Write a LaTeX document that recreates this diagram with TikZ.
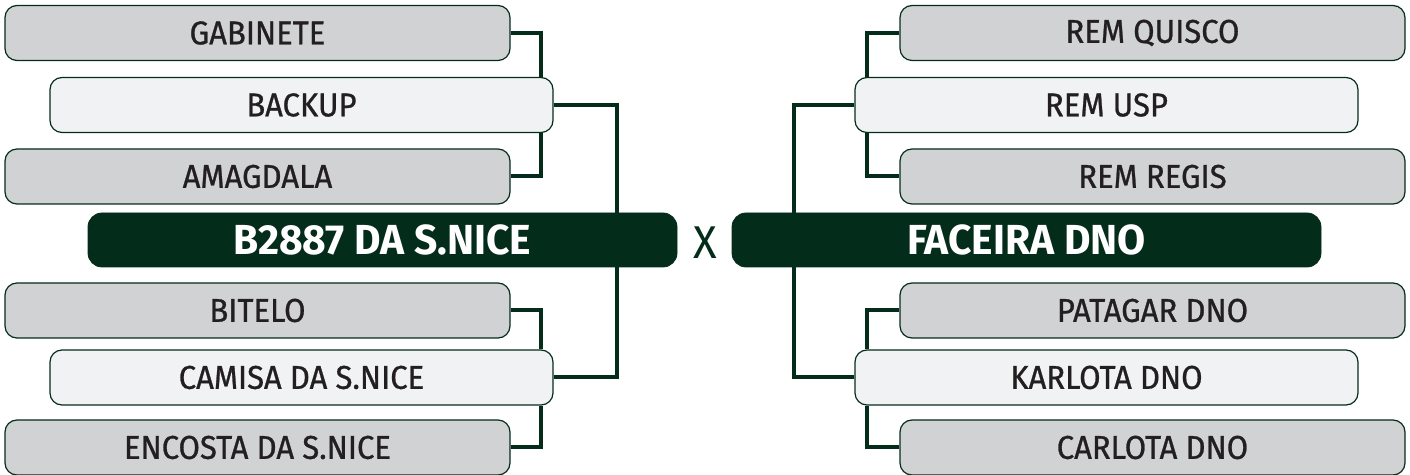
\documentclass[tikz,border=0pt]{standalone}
\usepackage{fontspec}
\setmainfont{Fira Sans}[FakeStretch=0.95]
\newfontfamily\playerfont{Fira Sans}[FakeStretch=0.94,FakeBold=0.8]
\newfontfamily\teamfont{Fira Sans Bold}[FakeStretch=0.97]
\usetikzlibrary{positioning}
\definecolor{darkteam}{RGB}{4,44,27}
\definecolor{grayfill}{RGB}{209,210,212}
\definecolor{lightfill}{RGB}{241,242,243}
\definecolor{inktext}{RGB}{35,31,32}

\begin{document}
\begin{tikzpicture}[x=0.5pt,y=-0.5pt,
  player/.style={draw=darkteam,line width=0.6pt,rounded corners=6pt,fill=grayfill,
    minimum width=252.5pt,minimum height=27.5pt,inner sep=0pt,
    text=inktext,font=\playerfont\fontsize{16.5}{17}\selectfont},
  captain/.style={player,fill=lightfill,minimum width=251.5pt},
  team/.style={draw=darkteam,fill=darkteam,rounded corners=7pt,
    minimum width=294.5pt,minimum height=27pt,inner sep=0pt,
    text=white,font=\teamfont\fontsize{21}{22}\selectfont},
  link/.style={draw=darkteam,line width=2pt}]
  \useasboundingbox (0,0) rectangle (1410,475);
  % left bracket
  \path
  node[player]  (gab)  at (257.5,33)   {GABINETE}
  node[captain] (bkp)  at (301.5,105)  {BACKUP}
  node[player]  (amg)  at (257.5,176.5){AMAGDALA}
  node[team]    (home) at (382.5,240)  {B2887 DA S.NICE}
  node[player]  (bit)  at (257.5,310.5){BITELO}
  node[captain] (cam)  at (301.5,377.5){CAMISA DA S.NICE}
  node[player]  (enc)  at (257.5,447.5){ENCOSTA DA S.NICE}
  ;
  % right bracket
  \path
  node[player]  (qui)  at (1152.5,33)   {REM QUISCO}
  node[captain] (usp)  at (1106.5,105)  {REM USP}
  node[player]  (reg)  at (1152.5,176.5){REM REGIS}
  node[team]    (away) at (1026.5,240)  {FACEIRA DNO}
  node[player]  (pat)  at (1152.5,310.5){PATAGAR DNO}
  node[captain] (kar)  at (1106.5,377.5){KARLOTA DNO}
  node[player]  (car)  at (1152.5,447.5){CARLOTA DNO}
  ;
  \node[text=darkteam,font=\fontsize{23}{24}\selectfont] (vs) at (705,243) {X};
  \path[link]
  (gab.east) -| ([xshift=-6.5pt]bkp.north east)
  (amg.east) -| ([xshift=-6.5pt]bkp.south east)
  (bkp.east) -| ([xshift=-30pt]home.north east)
  (bit.east) -| ([xshift=-6.5pt]cam.north east)
  (enc.east) -| ([xshift=-6.5pt]cam.south east)
  (cam.east) -| ([xshift=-30pt]home.south east)
  (qui.west) -| ([xshift=6.5pt]usp.north west)
  (reg.west) -| ([xshift=6.5pt]usp.south west)
  (usp.west) -| ([xshift=31pt]away.north west)
  (pat.west) -| ([xshift=6.5pt]kar.north west)
  (car.west) -| ([xshift=6.5pt]kar.south west)
  (kar.west) -| ([xshift=31pt]away.south west)
  ;
\end{tikzpicture}
\end{document}
